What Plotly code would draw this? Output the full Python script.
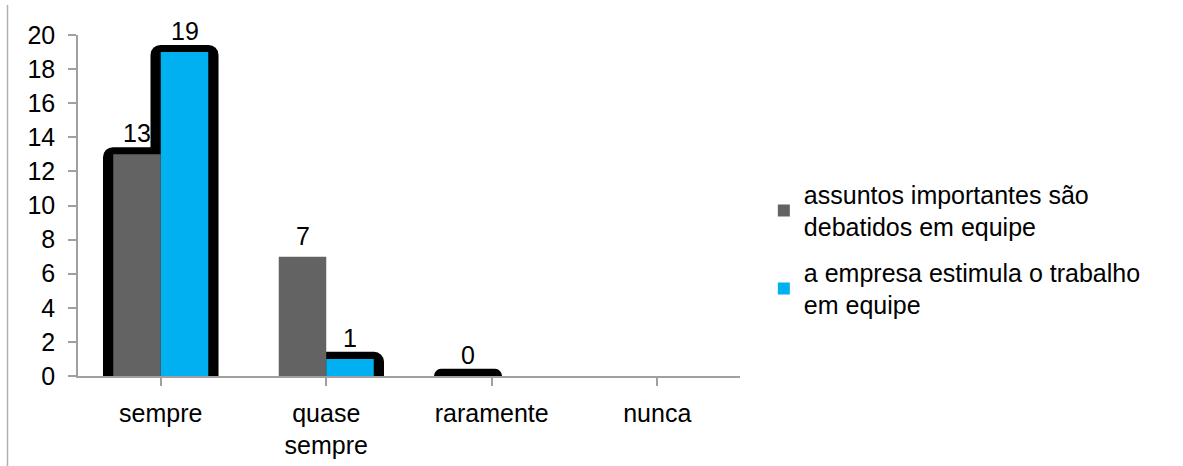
import plotly.graph_objects as go

# ---- data -------------------------------------------------------------
categories = ["sempre", "quase<br>sempre", "raramente", "nunca"]
series_names = [
    "assuntos importantes são<br>debatidos em equipe",
    "a empresa estimula o trabalho<br>em equipe",
]
debatidos = [13, 7, 0, None]
estimula = [19, 1, None, None]

# ---- styling ----------------------------------------------------------
FONT = "Liberation Sans, Arial, sans-serif"
FS = 25
GRAY = "#636363"
BLUE = "#00B0F0"
AXIS = "#A0A0A0"
BAR_W = 0.287            # width of one bar, in category units
HALO_X = 0.062           # black backdrop overhang at the sides
HALO_Y = 0.42            # black backdrop overhang at the top
# which bars get the dark rounded backdrop
halo_debatidos = [True, False, True, False]
halo_estimula = [True, True, False, False]

x_idx = list(range(len(categories)))


def halo_values(vals, flags):
    return [(v + HALO_Y) if (f and v is not None) else None for v, f in zip(vals, flags)]


fig = go.Figure()

# dark rounded backdrops behind the bars
fig.add_trace(go.Bar(
    x=x_idx, y=halo_values(debatidos, halo_debatidos),
    offset=-BAR_W - HALO_X, width=BAR_W + 2 * HALO_X,
    marker=dict(color="black", cornerradius=10, line=dict(width=0)),
    showlegend=False, hoverinfo="skip",
))
fig.add_trace(go.Bar(
    x=x_idx, y=halo_values(estimula, halo_estimula),
    offset=-HALO_X, width=BAR_W + 2 * HALO_X,
    marker=dict(color="black", cornerradius=10, line=dict(width=0)),
    showlegend=False, hoverinfo="skip",
))

# the two series
fig.add_trace(go.Bar(
    x=x_idx, y=debatidos, name=series_names[0],
    offset=-BAR_W, width=BAR_W,
    marker=dict(color=GRAY, line=dict(width=0)),
    legendgroup="a",
))
fig.add_trace(go.Bar(
    x=x_idx, y=estimula, name=series_names[1],
    offset=0, width=BAR_W,
    marker=dict(color=BLUE, line=dict(width=0)),
    legendgroup="b",
))

# value labels above the bars
for vals, shift in ((debatidos, -BAR_W / 2), (estimula, BAR_W / 2)):
    for i, v in enumerate(vals):
        if v is None:
            continue
        fig.add_annotation(
            x=i + shift, y=v, text=str(v), showarrow=False,
            yshift=21, yanchor="middle", xanchor="center",
            font=dict(family=FONT, size=FS, color="black"),
        )

# thin frame line on the left edge of the chart area
fig.add_shape(
    type="line", xref="paper", yref="paper",
    x0=-0.1065, x1=-0.1065, y0=-0.27, y1=1.088,
    line=dict(color="#B0B0B0", width=1.5),
)

fig.update_layout(
    width=1183, height=466,
    margin=dict(l=78, r=443, t=35, b=90, autoexpand=False),
    paper_bgcolor="white", plot_bgcolor="white",
    barmode="overlay",
    font=dict(family=FONT, size=FS, color="black"),
    showlegend=True,
    legend=dict(
        x=1.036, y=0.60, xanchor="left", yanchor="top",
        font=dict(family=FONT, size=FS, color="black"),
        traceorder="grouped", tracegroupgap=10,
        itemclick=False, bgcolor="rgba(0,0,0,0)",
    ),
    xaxis=dict(
        range=[-0.5, 3.5], automargin=False,
        tickmode="array", tickvals=x_idx, ticktext=categories,
        tickson="boundaries", ticks="outside", ticklen=8,
        tickcolor=AXIS, tickwidth=1.5,
        showline=True, linecolor=AXIS, linewidth=1.5,
        showgrid=False, zeroline=False,
        ticklabelstandoff=6,
        tickfont=dict(family=FONT, size=FS, color="black"),
    ),
    yaxis=dict(
        range=[0, 20], tickmode="linear", tick0=0, dtick=2, automargin=False,
        ticks="outside", ticklen=8, tickcolor=AXIS, tickwidth=1.5,
        showline=True, linecolor=AXIS, linewidth=1.5,
        showgrid=False, zeroline=False,
        ticklabelstandoff=8,
        tickfont=dict(family=FONT, size=FS, color="black"),
    ),
)

fig.write_html("out.html")
